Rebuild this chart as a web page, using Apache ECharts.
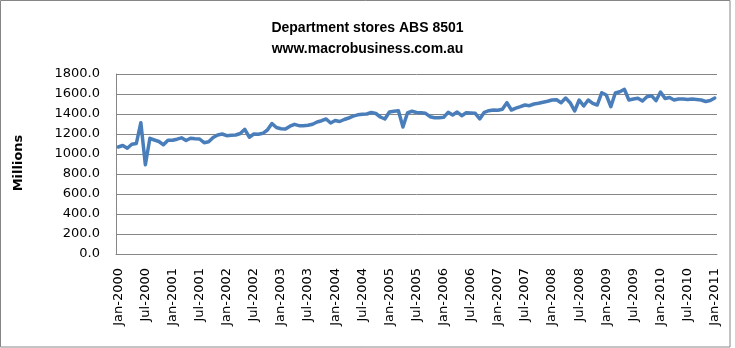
<!DOCTYPE html>
<html>
<head>
<meta charset="utf-8">
<script src="https://cdn.jsdelivr.net/npm/echarts@6/dist/echarts.min.js"></script>
<style>
  html, body { margin: 0; padding: 0; background: #fff; }
  #chart { width: 735px; height: 348px; }
</style>
</head>
<body>
<div id="chart"></div>
<script>
// ---- Data ----
var titleLines = ['Department stores ABS 8501', 'www.macrobusiness.com.au'];
var yAxisName = 'Millions';
var monthNames = ['Jan','Feb','Mar','Apr','May','Jun','Jul','Aug','Sep','Oct','Nov','Dec'];
var startYear = 2000;
var endYear = 2011; // series ends at Jan of this year
var yTicks = [0, 200, 400, 600, 800, 1000, 1200, 1400, 1600, 1800];

var values2000 = [1070, 1085, 1058, 1098, 1105, 1313, 893, 1157, 1140, 1125, 1092, 1138];
var values2001 = [1137, 1148, 1162, 1135, 1158, 1153, 1150, 1113, 1122, 1165, 1190, 1200];
var values2002 = [1183, 1187, 1190, 1205, 1247, 1168, 1200, 1197, 1207, 1240, 1305, 1265];
var values2003 = [1253, 1250, 1278, 1297, 1283, 1283, 1287, 1298, 1320, 1333, 1350, 1310];
var values2004 = [1335, 1325, 1345, 1360, 1378, 1392, 1397, 1400, 1415, 1405, 1370, 1350];
var values2005 = [1420, 1428, 1432, 1270, 1410, 1428, 1415, 1413, 1407, 1373, 1363, 1363];
var values2006 = [1367, 1417, 1390, 1420, 1383, 1413, 1410, 1407, 1350, 1417, 1433, 1440];
var values2007 = [1437, 1447, 1513, 1440, 1458, 1473, 1490, 1483, 1500, 1507, 1517, 1527];
var values2008 = [1540, 1543, 1513, 1560, 1513, 1430, 1540, 1480, 1540, 1507, 1490, 1613];
var values2009 = [1590, 1473, 1610, 1623, 1647, 1540, 1550, 1557, 1530, 1573, 1583, 1533];
var values2010 = [1620, 1555, 1565, 1540, 1550, 1550, 1545, 1550, 1545, 1540, 1525, 1535];
var values2011 = [1560];

// ---- Build ----
var seriesValues = [].concat(values2000, values2001, values2002, values2003, values2004,
  values2005, values2006, values2007, values2008, values2009, values2010, values2011);
var categories = [];
for (var y = startYear; y <= endYear; y++) {
  for (var m = 0; m < 12; m++) {
    if (y === endYear && m > 0) break;
    categories.push(monthNames[m] + '-' + y);
  }
}

var chart = echarts.init(document.getElementById('chart'), null, { renderer: 'canvas' });
var axisFont = 'DejaVu Sans';
chart.setOption({
  animation: false,
  backgroundColor: '#ffffff',
  title: {
    text: titleLines.join('\n'),
    left: 'center',
    top: 13,
    textStyle: {
      fontFamily: 'Liberation Sans',
      fontSize: 14,
      fontWeight: 'bold',
      color: '#000000',
      lineHeight: 21
    }
  },
  graphic: [
    {
      type: 'rect',
      shape: { x: 0.5, y: 0.5, width: 729.5, height: 346.5 },
      style: { fill: 'none', stroke: '#868686', lineWidth: 1 },
      silent: true
    },
    {
      type: 'text',
      x: 19,
      y: 163,
      rotation: Math.PI / 2,
      style: {
        text: yAxisName,
        fontFamily: axisFont,
        fontSize: 13,
        fontWeight: 'bold',
        fill: '#000000',
        align: 'center',
        verticalAlign: 'middle'
      }
    }
  ],
  grid: {
    left: 116,
    right: 18,
    top: 74,
    bottom: 94,
    containLabel: false
  },
  xAxis: {
    type: 'category',
    data: categories,
    boundaryGap: true,
    axisLine: { show: true, lineStyle: { color: '#868686', width: 1 } },
    axisTick: { show: false },
    axisLabel: {
      interval: 5,
      rotate: 90,
      margin: 14,
      fontFamily: axisFont,
      fontSize: 13,
      color: '#000000'
    },
    splitLine: { show: false }
  },
  yAxis: {
    type: 'value',
    min: yTicks[0],
    max: yTicks[yTicks.length - 1],
    interval: 200,
    axisLine: { show: true, lineStyle: { color: '#868686', width: 1 } },
    axisTick: { show: false },
    axisLabel: {
      margin: 16,
      fontFamily: axisFont,
      fontSize: 13,
      color: '#000000',
      formatter: function (v) { return v.toFixed(1); }
    },
    splitLine: { show: true, lineStyle: { color: '#868686', width: 1 } }
  },
  series: [{
    type: 'line',
    data: seriesValues,
    symbol: 'none',
    smooth: false,
    lineStyle: { color: '#4a7ebb', width: 3.5, join: 'round', cap: 'round' },
    itemStyle: { color: '#4a7ebb' }
  }]
});
</script>
</body>
</html>
